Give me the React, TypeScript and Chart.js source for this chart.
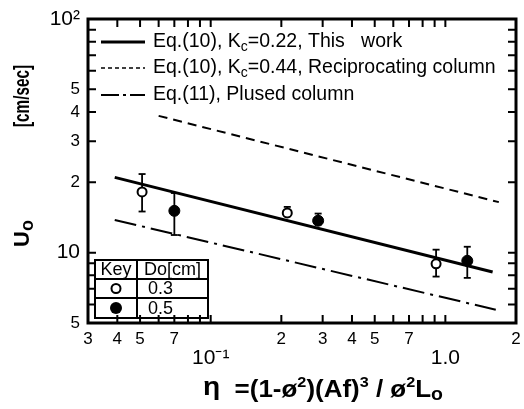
import React, { useEffect, useRef } from 'react';
import { Chart, registerables } from 'chart.js';

Chart.register(...registerables);

const FAM = '"Liberation Sans", Arial, sans-serif';

// Axis ticks
const xTickValues = [0.03, 0.04, 0.05, 0.06, 0.07, 0.08, 0.09, 0.1, 0.2, 0.3, 0.4, 0.5, 0.6, 0.7, 0.8, 0.9, 1, 2];
const xTickLabels: (string | string[])[] = ['3', '4', '5', '', '7', '', '', ['', '10⁻¹'], '2', '3', '4', '5', '', '7', '', '', ['', '1.0'], '2'];
const yTickValues = [5, 6, 7, 8, 9, 10, 20, 30, 40, 50, 60, 70, 80, 90, 100];
const yTickLabels = ['5', '', '', '', '', '10', '2', '3', '4', '5', '', '', '', '', '10²'];
const bigTickValues = [0.1, 1, 10, 100];

// Measured points, Do = 0.3 cm (open)
const openX = [0.051, 0.212, 0.913];
const openY = [18.2, 14.8, 8.96];
const openLow = [15.0, 14.3, 7.9];
const openHigh = [21.7, 15.7, 10.3];
// Measured points, Do = 0.5 cm (filled)
const filledX = [0.07, 0.287, 1.24];
const filledY = [15.1, 13.7, 9.23];
const filledLow = [11.9, 13.2, 7.8];
const filledHigh = [18.0, 14.7, 10.6];

// Correlation lines
const eq10ThisX = [0.039, 1.59];
const eq10ThisY = [21.0, 8.27];
const eq10RecipX = [0.06, 1.69];
const eq10RecipY = [38.5, 16.45];
const eq11X = [0.039, 1.64];
const eq11Y = [13.8, 5.7];

// Legend text
const legendPrefix = ['Eq.(10), K', 'Eq.(10), K', 'Eq.(11), Plused column'];
const legendSub = ['c', 'c', ''];
const legendSuffix = ['=0.22, This   work', '=0.44, Reciprocating column', ''];
const legendDash: number[][] = [[], [4, 3], [18, 4, 3, 4]];
const legendWidth = [3, 1.5, 2];

// Key table
const keyHeader = ['Key', 'Do[cm]'];
const keyRows = ['0.3', '0.5'];

type Part = { t: string; size: number; dy?: number; bold?: boolean };

function partsWidth(ctx: CanvasRenderingContext2D, parts: Part[]) {
  let w = 0;
  parts.forEach((p) => {
    ctx.font = `${p.bold ? 'bold ' : ''}${p.size}px ${FAM}`;
    w += ctx.measureText(p.t).width;
  });
  return w;
}

function drawParts(ctx: CanvasRenderingContext2D, parts: Part[], x: number, y: number) {
  let cx = x;
  parts.forEach((p) => {
    ctx.font = `${p.bold ? 'bold ' : ''}${p.size}px ${FAM}`;
    ctx.fillText(p.t, cx, y + (p.dy || 0));
    cx += ctx.measureText(p.t).width;
  });
}

const decor = {
  id: 'decor',
  afterDatasetsDraw(chart: any) {
    const { ctx, chartArea: a, scales } = chart;
    const xs = scales.x;
    const ys = scales.y;
    ctx.save();
    ctx.strokeStyle = '#000';
    ctx.fillStyle = '#000';

    // legend
    const rowsY = [42, 68, 95];
    rowsY.forEach((ry, i) => {
      ctx.save();
      ctx.lineWidth = legendWidth[i];
      ctx.setLineDash(legendDash[i]);
      ctx.beginPath();
      ctx.moveTo(101, ry);
      ctx.lineTo(145, ry);
      ctx.stroke();
      ctx.restore();
      ctx.textBaseline = 'middle';
      ctx.textAlign = 'left';
      drawParts(
        ctx,
        [
          { t: legendPrefix[i], size: 19.5 },
          { t: legendSub[i], size: 14, dy: 5 },
          { t: legendSuffix[i], size: 19.5 },
        ],
        153,
        ry
      );
    });

    // key table
    const tL = 95, tR = 208, tT = 260, tB = 318, cX = 137, r1 = 279, r2 = 298;
    ctx.fillStyle = '#fff';
    ctx.fillRect(tL, tT, tR - tL, tB - tT);
    ctx.fillStyle = '#000';
    ctx.lineWidth = 2;
    ctx.strokeRect(tL, tT, tR - tL, tB - tT);
    ctx.beginPath();
    ctx.moveTo(cX, tT); ctx.lineTo(cX, tB);
    ctx.moveTo(tL, r1); ctx.lineTo(tR, r1);
    ctx.moveTo(tL, r2); ctx.lineTo(tR, r2);
    ctx.stroke();
    ctx.font = `18px ${FAM}`;
    ctx.textBaseline = 'middle';
    ctx.textAlign = 'center';
    ctx.fillText(keyHeader[0], (tL + cX) / 2, (tT + r1) / 2 + 1);
    ctx.fillText(keyHeader[1], (cX + tR) / 2, (tT + r1) / 2 + 1);
    ctx.textAlign = 'left';
    ctx.fillText(keyRows[0], 148, (r1 + r2) / 2 + 1);
    ctx.fillText(keyRows[1], 148, (r2 + tB) / 2 + 1);
    ctx.beginPath();
    ctx.arc(116, (r1 + r2) / 2, 4.5, 0, Math.PI * 2);
    ctx.fillStyle = '#fff';
    ctx.fill();
    ctx.lineWidth = 2;
    ctx.stroke();
    ctx.fillStyle = '#000';
    ctx.beginPath();
    ctx.arc(116, (r2 + tB) / 2, 6, 0, Math.PI * 2);
    ctx.fill();

    // inward ticks
    ctx.lineWidth = 2;
    const L = 8;
    ctx.beginPath();
    xTickValues.forEach((v) => {
      const px = xs.getPixelForValue(v);
      ctx.moveTo(px, a.bottom); ctx.lineTo(px, a.bottom - L);
      ctx.moveTo(px, a.top); ctx.lineTo(px, a.top + L);
    });
    yTickValues.forEach((v) => {
      const py = ys.getPixelForValue(v);
      ctx.moveTo(a.left, py); ctx.lineTo(a.left + L, py);
      ctx.moveTo(a.right, py); ctx.lineTo(a.right - L, py);
    });
    ctx.stroke();

    // frame
    ctx.lineWidth = 3;
    ctx.strokeRect(a.left, a.top, a.right - a.left, a.bottom - a.top);

    // x title
    ctx.textAlign = 'left';
    ctx.textBaseline = 'alphabetic';
    const xParts: Part[] = [
      { t: 'η', size: 26, bold: true, dy: -2 },
      { t: '  =(1-ø', size: 24, bold: true },
      { t: '2', size: 15, bold: true, dy: -10 },
      { t: ')(Af)', size: 24, bold: true },
      { t: '3', size: 15, bold: true, dy: -10 },
      { t: ' / ø', size: 24, bold: true },
      { t: '2', size: 15, bold: true, dy: -10 },
      { t: 'L', size: 24, bold: true },
      { t: 'o', size: 18, bold: true, dy: 3 },
    ];
    const xw = partsWidth(ctx, xParts);
    ctx.save();
    ctx.translate(203, 397);
    ctx.scale(240 / xw, 1);
    drawParts(ctx, xParts, 0, 0);
    ctx.restore();

    // y title
    ctx.save();
    ctx.translate(23, 247);
    ctx.rotate(-Math.PI / 2);
    ctx.textBaseline = 'middle';
    drawParts(ctx, [{ t: 'U', size: 22, bold: true }, { t: 'o', size: 18, bold: true, dy: 5 }], 0, 0);
    ctx.font = `bold 22px ${FAM}`;
    const unit = '[cm/sec]';
    const uw = ctx.measureText(unit).width;
    ctx.translate(120, 0);
    ctx.scale(62 / uw, 1);
    ctx.fillText(unit, 0, 0);
    ctx.restore();

    ctx.restore();
  },
};

export default function App() {
  const ref = useRef<HTMLCanvasElement | null>(null);

  useEffect(() => {
    if (!ref.current) return;
    const pts = (xs: number[], ys: number[]) => xs.map((x, i) => ({ x, y: ys[i] }));

    const errSets: any[] = [];
    const addErr = (xs: number[], lo: number[], hi: number[]) => {
      xs.forEach((x, i) => {
        errSets.push({
          data: [{ x, y: lo[i] }, { x, y: hi[i] }],
          showLine: true,
          borderColor: '#000',
          borderWidth: 1.8,
          pointStyle: 'line',
          pointRadius: 3.5,
          pointBorderWidth: 1.8,
          pointBorderColor: '#000',
        });
      });
    };
    addErr(openX, openLow, openHigh);
    addErr(filledX, filledLow, filledHigh);

    const chart = new Chart(ref.current, {
      type: 'scatter',
      data: {
        datasets: [
          {
            label: 'Do 0.3',
            data: pts(openX, openY),
            pointStyle: 'circle',
            pointRadius: 4.5,
            pointBorderWidth: 2,
            pointBackgroundColor: '#fff',
            pointBorderColor: '#000',
          },
          {
            label: 'Do 0.5',
            data: pts(filledX, filledY),
            pointStyle: 'circle',
            pointRadius: 5.5,
            pointBorderWidth: 1,
            pointBackgroundColor: '#000',
            pointBorderColor: '#000',
          },
          ...errSets,
          {
            label: 'Eq.(10) Kc=0.22',
            data: pts(eq10ThisX, eq10ThisY),
            showLine: true,
            borderColor: '#000',
            borderWidth: 3,
            pointRadius: 0,
          },
          {
            label: 'Eq.(10) Kc=0.44',
            data: pts(eq10RecipX, eq10RecipY),
            showLine: true,
            borderColor: '#000',
            borderWidth: 2,
            borderDash: [9, 6],
            pointRadius: 0,
          },
          {
            label: 'Eq.(11)',
            data: pts(eq11X, eq11Y),
            showLine: true,
            borderColor: '#000',
            borderWidth: 2,
            borderDash: [22, 6, 3, 6],
            pointRadius: 0,
          },
        ],
      },
      options: {
        animation: false,
        responsive: false,
        devicePixelRatio: 1,
        layout: { padding: { left: 0, top: 19, right: 8, bottom: 0 } },
        plugins: { legend: { display: false }, tooltip: { enabled: false } },
        scales: {
          x: {
            type: 'logarithmic',
            min: 0.03,
            max: 2,
            grid: { display: false, drawTicks: false },
            border: { display: false },
            afterBuildTicks: (s: any) => {
              s.ticks = xTickValues.map((v) => ({ value: v }));
            },
            afterFit: (s: any) => {
              s.height = 86;
              s.paddingLeft = 0;
              s.paddingRight = 0;
            },
            ticks: {
              autoSkip: false,
              maxRotation: 0,
              minRotation: 0,
              padding: 7,
              color: '#000',
              callback: (_v: any, i: number) => xTickLabels[i],
              font: (c: any) =>
                c.tick && bigTickValues.includes(c.tick.value)
                  ? { family: FAM, size: 21, lineHeight: 0.9 }
                  : { family: FAM, size: 17, lineHeight: 1.15 },
            },
          },
          y: {
            type: 'logarithmic',
            min: 5,
            max: 100,
            grid: { display: false, drawTicks: false },
            border: { display: false },
            afterBuildTicks: (s: any) => {
              s.ticks = yTickValues.map((v) => ({ value: v }));
            },
            afterFit: (s: any) => {
              s.width = 88;
              s.paddingTop = 0;
              s.paddingBottom = 0;
            },
            ticks: {
              autoSkip: false,
              padding: 8,
              color: '#000',
              callback: (_v: any, i: number) => yTickLabels[i],
              font: (c: any) =>
                c.tick && bigTickValues.includes(c.tick.value)
                  ? { family: FAM, size: 21 }
                  : { family: FAM, size: 17 },
            },
          },
        },
      },
      plugins: [decor],
    });
    return () => chart.destroy();
  }, []);

  return (
    <canvas
      ref={ref}
      width={524}
      height={409}
      style={{ position: 'absolute', left: 0, top: 0, width: 524, height: 409, background: '#fff' }}
    />
  );
}
